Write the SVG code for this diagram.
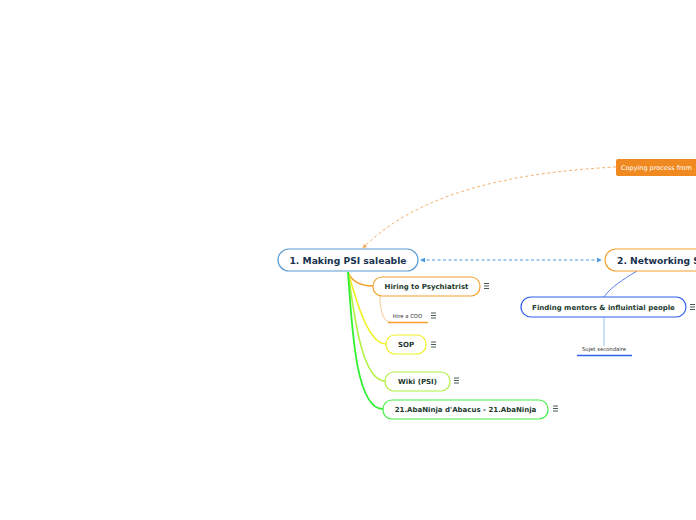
<svg xmlns="http://www.w3.org/2000/svg" xmlns:xlink="http://www.w3.org/1999/xlink" width="696" height="520" viewBox="0 0 696 520">
<style>
text{font-family:"DejaVu Sans","Liberation Sans",sans-serif;}
.b{font-weight:bold;fill:#1c3a2e;font-size:7px;text-anchor:middle;}
.s{fill:#333;font-size:5.3px;text-anchor:middle;}
.box{fill:#fff;stroke-width:1.2;}
.ic{stroke:#4a5a55;stroke-width:1;fill:none;}
</style>
<defs>
<g id="menu"><path class="ic" d="M0,0h5M0,2.5h5M0,5h5"/></g>
<marker id="ab" viewBox="0 0 6 6" refX="5" refY="3" markerWidth="5" markerHeight="5" orient="auto-start-reverse"><path d="M0,0L6,3L0,6z" fill="#4a9ae0"/></marker>
<marker id="ao" viewBox="0 0 6 6" refX="5" refY="3" markerWidth="5" markerHeight="5" orient="auto"><path d="M0,0L6,3L0,6z" fill="#f5b070"/></marker>
</defs>
<rect width="696" height="520" fill="#fff"/>
<g id="connectors" fill="none">
<path d="M616,167 C520,172 420,190 363,248" stroke="#f5b070" stroke-width="1" stroke-dasharray="3,2.5" marker-end="url(#ao)"/>
<path d="M421,260 H601" stroke="#4a9ae0" stroke-width="1" stroke-dasharray="3,2.5" marker-start="url(#ab)" marker-end="url(#ab)"/>
<path d="M348,272 C352,282 360,286 373,286" stroke="#f5a030" stroke-width="1.6"/>
<path d="M380,296 C380,306 382,322 390,322" stroke="#f8c890" stroke-width="1"/>
<path d="M348,272 C356,300 368,344 386,344" stroke="#f0f020" stroke-width="1.6"/>
<path d="M348,272 C354,315 362,381 385,381" stroke="#b0f040" stroke-width="1.6"/>
<path d="M348,272 C352,330 356,409 383,409" stroke="#30f030" stroke-width="1.8"/>
<path d="M637,271 C622,280 610,288 604,297" stroke="#3060f0" stroke-width="0.8"/>
<path d="M604,317 V346" stroke="#a0c0f0" stroke-width="1"/>
</g>
<g id="copying">
<rect x="616" y="159" width="90" height="17" rx="2" fill="#f08a20"/>
<text x="621" y="170" font-size="6.5" fill="#fff">Copying process from</text>
</g>
<g id="main">
<rect class="box" x="278" y="249" width="140" height="22" rx="11" stroke="#5a9ad0"/>
<text x="348" y="263.5" font-size="9.2" font-weight="bold" fill="#1a3350" text-anchor="middle">1. Making PSI saleable</text>
</g>
<g id="networking">
<rect class="box" x="605" y="249" width="110" height="22" rx="11" stroke="#f5a030"/>
<text x="617" y="263.5" font-size="9.2" font-weight="bold" fill="#1a3350">2. Networking S</text>
</g>
<g id="hiring">
<rect class="box" x="373" y="277" width="107" height="19" rx="9" stroke="#f5a030"/>
<text class="b" x="426.5" y="289">Hiring to Psychiatrist</text>
<use xlink:href="#menu" x="484" y="283.5"/>
</g>
<g id="coo">
<text class="s" x="407.5" y="318">Hire a COO</text>
<path d="M388,322.5H428" stroke="#f5a030" stroke-width="1.5"/>
<use xlink:href="#menu" x="431" y="313"/>
</g>
<g id="sop">
<rect class="box" x="386" y="335" width="40" height="19" rx="9" stroke="#f0f020"/>
<text class="b" x="406" y="347">SOP</text>
<use xlink:href="#menu" x="431" y="342"/>
</g>
<g id="wiki">
<rect class="box" x="385" y="372" width="65" height="19" rx="9" stroke="#b0f040"/>
<text class="b" x="417.5" y="384">Wiki (PSI)</text>
<use xlink:href="#menu" x="454" y="378"/>
</g>
<g id="abaninja">
<rect class="box" x="383" y="400" width="165" height="19" rx="9" stroke="#40f040"/>
<text class="b" x="465.5" y="412">21.AbaNinja d'Abacus - 21.AbaNinja</text>
<use xlink:href="#menu" x="553" y="406"/>
</g>
<g id="finding">
<rect class="box" x="521" y="297" width="165" height="20" rx="10" stroke="#3060f0"/>
<text class="b" x="603.5" y="309.5">Finding mentors &amp; influintial people</text>
<use xlink:href="#menu" x="690" y="304.5"/>
</g>
<g id="sujet">
<text class="s" x="604" y="351">Sujet secondaire</text>
<path d="M577,355.5H632" stroke="#3060f0" stroke-width="1.5"/>
</g>
</svg>
